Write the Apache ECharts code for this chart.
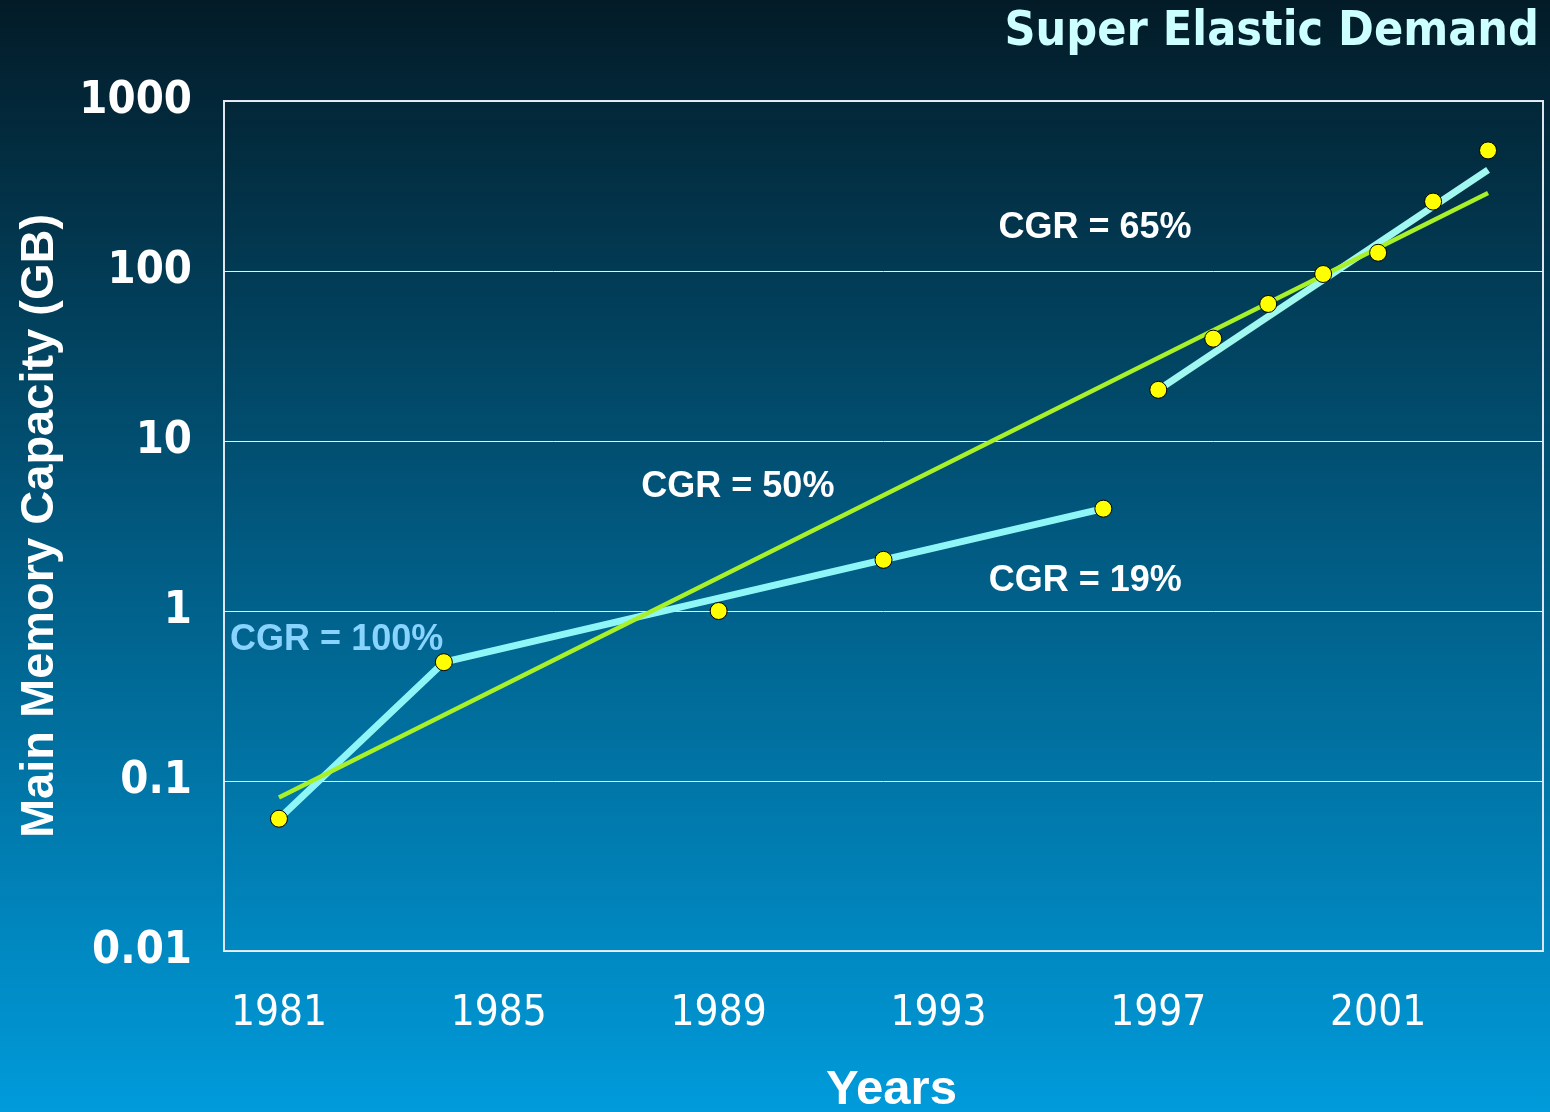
<!DOCTYPE html>
<html><head><meta charset="utf-8">
<script src="https://cdn.jsdelivr.net/npm/echarts@6/dist/echarts.min.js"></script>
<style>html,body{margin:0;padding:0;background:#02202e}#c{width:1550px;height:1112px}</style>
</head><body><div id="c"></div>
<script>
// ---- data ----
const xTickYears = [1981, 1985, 1989, 1993, 1997, 2001];
const yTickValues = [0.01, 0.1, 1, 10, 100, 1000];
const pointYears = [1981, 1984, 1989, 1992, 1996, 1997, 1998, 1999, 2000, 2001, 2002, 2003];
const pointValues = [0.06, 0.5, 1, 2, 4, 20, 40, 64, 96, 128, 256, 512];
const trendEarlyYears = [1981, 1984, 1996];
const trendEarlyValues = [0.06, 0.5, 4];
const trendLateYears = [1997, 2003];
const trendLateValues = [20, 393];
const fitYears = [1981, 2003];
const fitValues = [0.08, 288];
const annoTexts = ['CGR = 65%', 'CGR = 50%', 'CGR = 19%', 'CGR = 100%'];
const annoYears = [1995.85, 1989.35, 1995.67, 1982.05];
const annoValues = [179, 5.36, 1.5, 0.675];
const annoColors = ['#ffffff', '#ffffff', '#ffffff', '#88d4ff'];

const zip = (a, b) => a.map((v, i) => [v, b[i]]);
const chart = echarts.init(document.getElementById('c'));
const narrow = "'Liberation Sans Narrow','DejaVu Sans Condensed',sans-serif";
const arial = "'Liberation Sans',Arial,sans-serif";

chart.setOption({
  backgroundColor: new echarts.graphic.LinearGradient(0, 0, 0, 1, [
    {offset: 0, color: '#031b27'},
    {offset: 0.45, color: '#01557a'},
    {offset: 1, color: '#009bdb'}
  ]),
  title: {
    text: 'Super Elastic Demand', right: 6, top: 4,
    textStyle: {color: '#ccffff', fontFamily: narrow, fontWeight: 'bold', fontSize: 48}
  },
  grid: {left: 224, top: 101, right: 7, bottom: 161, containLabel: false, outerBoundsMode: 'none',
    show: true, borderColor: '#dde6ee', borderWidth: 2, backgroundColor: 'transparent'},
  xAxis: {
    type: 'value', min: 1980, max: 2004,
    name: 'Years', nameLocation: 'middle', nameGap: 115,
    nameTextStyle: {color: '#ffffff', fontFamily: arial, fontWeight: 'bold', fontSize: 49, padding: [0, 0, 0, 16]},
    axisLine: {show: false}, axisTick: {show: false}, splitLine: {show: false},
    axisLabel: {customValues: xTickYears, color: '#ffffff', fontFamily: narrow, fontSize: 42, margin: 42,
      formatter: v => String(v)}
  },
  yAxis: {
    type: 'log', logBase: 10, min: 0.01, max: 1000,
    name: 'Main Memory Capacity (GB)', nameLocation: 'middle', nameGap: 160,
    nameTextStyle: {color: '#ffffff', fontFamily: arial, fontWeight: 'bold', fontSize: 47},
    axisLine: {show: false}, axisTick: {show: false},
    splitLine: {show: true, lineStyle: {color: '#e8f0f5', width: 1}},
    axisLabel: {customValues: yTickValues, color: '#ffffff', fontFamily: narrow, fontWeight: 'bold', fontSize: 45, margin: 32,
      formatter: v => String(+(+v).toPrecision(3))}
  },
  series: [
    {type: 'line', data: zip(trendEarlyYears, trendEarlyValues), showSymbol: false, lineStyle: {color: '#8ff6f8', width: 7}, z: 2, silent: true},
    {type: 'line', data: zip(trendLateYears, trendLateValues), showSymbol: false, lineStyle: {color: '#a0f8f0', width: 7}, z: 2, silent: true},
    {type: 'line', data: zip(fitYears, fitValues), showSymbol: false, lineStyle: {color: '#a8f028', width: 4.5}, z: 3, silent: true},
    {type: 'scatter', data: zip(pointYears, pointValues), symbol: 'circle', symbolSize: 17,
      itemStyle: {color: '#ffff00', borderColor: '#000000', borderWidth: 1, opacity: 1}, z: 5},
    {type: 'scatter', symbolSize: 0, z: 6, silent: true, itemStyle: {opacity: 1},
      data: annoTexts.map((t, i) => ({value: [annoYears[i], annoValues[i]],
        label: {show: true, position: 'inside', formatter: t, color: annoColors[i], fontFamily: arial, fontWeight: 'bold', fontSize: 36}}))}
  ]
});
</script></body></html>
